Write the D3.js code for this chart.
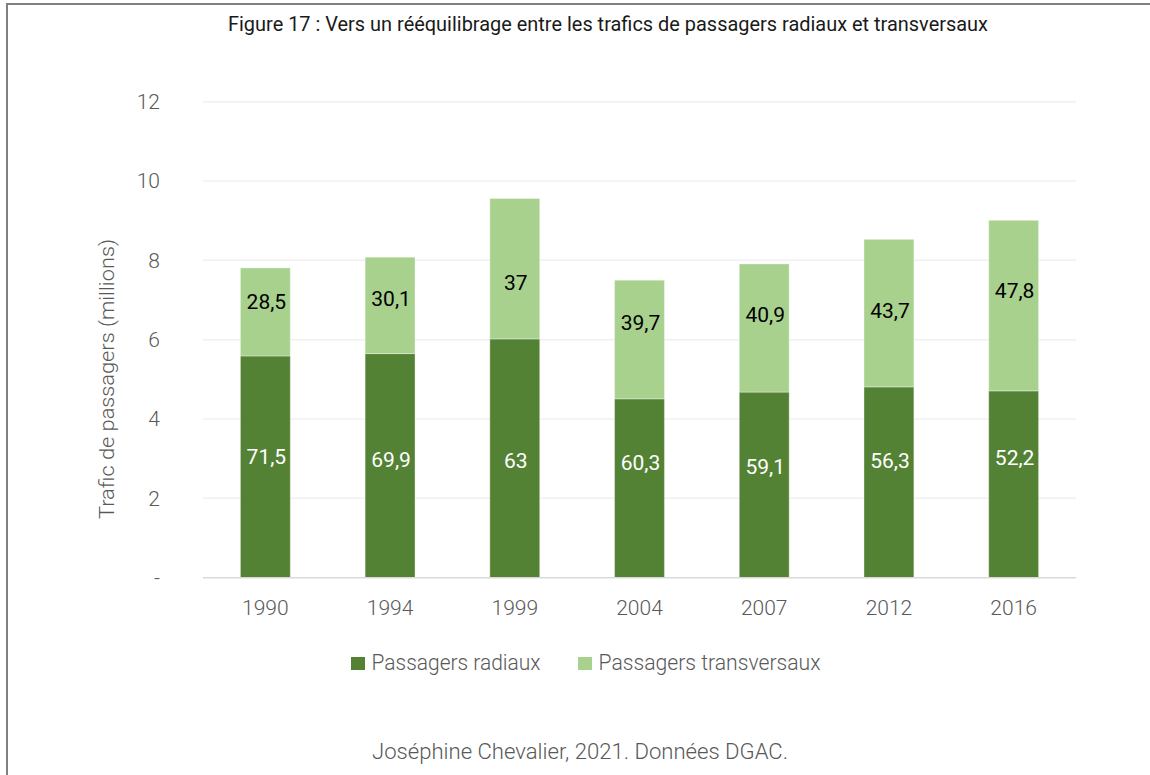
<!DOCTYPE html>
<html>
<head>
<meta charset="utf-8">
<script src="https://cdn.jsdelivr.net/npm/d3@7"></script>
<style>
  body { margin: 0; background: #fff; }
  svg { display: block; font-family: Roboto, "Open Sans", sans-serif; }
</style>
</head>
<body>
<svg id="chart" width="1150" height="775"></svg>
<script>
// values (millions of passengers)
var years = ["1990", "1994", "1999", "2004", "2007", "2012", "2016"];
var radial = [5.59, 5.65, 6.02, 4.51, 4.68, 4.81, 4.71];
var transversal = [2.22, 2.43, 3.54, 2.99, 3.23, 3.72, 4.30];
// shares printed inside the bars (%)
var radialShare = ["71,5", "69,9", "63", "60,3", "59,1", "56,3", "52,2"];
var transversalShare = ["28,5", "30,1", "37", "39,7", "40,9", "43,7", "47,8"];
var yTicks = [0, 2, 4, 6, 8, 10, 12];
var seriesNames = ["Passagers radiaux", "Passagers transversaux"];
var colors = ["#548235", "#a9d18e"];

// labels were hand-moved in the original, nudge them (px) from the segment middle
var radialNudge = [-10, -6, 2, -26, -18, -22, -27];
var transversalNudge = [-10, -7, 14, -17, -13, -2, -15];

var svg = d3.select("#chart");
var plot = { left: 203, right: 1076, top: 101.7, bottom: 577.7 };

// frame
svg.append("path")
  .attr("d", "M7,780 V4 H1160")
  .attr("fill", "none")
  .attr("stroke", "#808080")
  .attr("stroke-width", 2);

svg.append("text")
  .attr("x", 608).attr("y", 31)
  .attr("text-anchor", "middle")
  .attr("font-size", 21)
  .attr("fill", "#1a1a1a")
  .attr("textLength", 760)
  .attr("lengthAdjust", "spacingAndGlyphs")
  .text("Figure 17 : Vers un rééquilibrage entre les trafics de passagers radiaux et transversaux");

var x = d3.scaleBand()
  .domain(years)
  .range([plot.left, plot.right])
  .paddingInner(0.6)
  .paddingOuter(0.3);

var y = d3.scaleLinear()
  .domain([0, 12])
  .range([plot.bottom, plot.top]);

// gridlines
svg.append("g")
  .selectAll("line")
  .data(yTicks.filter(function(d) { return d > 0; }))
  .enter().append("line")
    .attr("x1", plot.left).attr("x2", plot.right)
    .attr("y1", function(d) { return y(d); })
    .attr("y2", function(d) { return y(d); })
    .attr("stroke", "#f0f0f0")
    .attr("stroke-width", 1.5);

// y axis labels
var yAxis = svg.append("g")
  .attr("transform", "translate(" + 160 + ",0)")
  .call(d3.axisLeft(y).tickValues(yTicks).tickSize(0).tickPadding(0)
    .tickFormat(function(d) { return d === 0 ? "-" : d; }));
yAxis.select(".domain").remove();
yAxis.selectAll("text")
  .attr("font-size", 21)
  .attr("font-weight", 300)
  .attr("fill", "#595959")
  .attr("font-family", "Roboto, sans-serif");

svg.append("text")
  .attr("transform", "translate(114,379) rotate(-90)")
  .attr("text-anchor", "middle")
  .attr("font-size", 20)
  .attr("font-weight", 300)
  .attr("fill", "#595959")
  .attr("textLength", 280)
  .attr("lengthAdjust", "spacingAndGlyphs")
  .text("Trafic de passagers (millions)");

// stacked bars
var rows = years.map(function(yr, i) {
  return { year: yr, radial: radial[i], transversal: transversal[i] };
});
var stack = d3.stack().keys(["radial", "transversal"])(rows);
var shares = [radialShare, transversalShare];
var nudges = [radialNudge, transversalNudge];
var labelColors = ["#ffffff", "#000000"];

var layers = svg.append("g").selectAll("g")
  .data(stack)
  .enter().append("g")
    .attr("fill", function(d, i) { return colors[i]; });

layers.selectAll("rect")
  .data(function(d) { return d; })
  .enter().append("rect")
    .attr("x", function(d) { return x(d.data.year); })
    .attr("width", x.bandwidth())
    .attr("y", function(d) { return y(d[1]); })
    .attr("height", function(d) { return y(d[0]) - y(d[1]); })
    .attr("stroke", "#ffffff")
    .attr("stroke-opacity", 0.35)
    .attr("stroke-width", 1);

layers.each(function(layer, li) {
  d3.select(this).selectAll("text")
    .data(layer)
    .enter().append("text")
      .attr("x", function(d) { return x(d.data.year) + x.bandwidth() / 2 + 1; })
      .attr("y", function(d, i) { return (y(d[0]) + y(d[1])) / 2 + nudges[li][i]; })
      .attr("dy", "0.35em")
      .attr("text-anchor", "middle")
      .attr("font-size", 21)
      .attr("fill", labelColors[li])
      .text(function(d, i) { return shares[li][i]; });
});

// x axis
svg.append("line")
  .attr("x1", plot.left).attr("x2", plot.right)
  .attr("y1", plot.bottom).attr("y2", plot.bottom)
  .attr("stroke", "#d9d9d9")
  .attr("stroke-width", 1.5);

var xAxis = svg.append("g")
  .attr("transform", "translate(0," + (plot.bottom + 22) + ")")
  .call(d3.axisBottom(x).tickSize(0).tickPadding(0));
xAxis.select(".domain").remove();
xAxis.selectAll("text")
  .attr("font-size", 21)
  .attr("font-weight", 300)
  .attr("fill", "#595959")
  .attr("font-family", "Roboto, sans-serif");

// legend
var legendX = [351, 578];
var legendW = [169, 222];
var legend = svg.append("g").selectAll("g")
  .data(seriesNames)
  .enter().append("g")
    .attr("transform", function(d, i) { return "translate(" + legendX[i] + ",657)"; });
legend.append("rect")
  .attr("width", 14).attr("height", 13)
  .attr("fill", function(d, i) { return colors[i]; });
legend.append("text")
  .attr("x", 20.5).attr("y", 13)
  .attr("font-size", 22)
  .attr("font-weight", 300)
  .attr("fill", "#595959")
  .attr("textLength", function(d, i) { return legendW[i]; })
  .attr("lengthAdjust", "spacingAndGlyphs")
  .text(function(d) { return d; });

svg.append("text")
  .attr("x", 372).attr("y", 759)
  .attr("font-size", 22)
  .attr("font-weight", 300)
  .attr("fill", "#595959")
  .attr("textLength", 416)
  .attr("lengthAdjust", "spacingAndGlyphs")
  .text("Joséphine Chevalier, 2021. Données DGAC.");
</script>
</body>
</html>
